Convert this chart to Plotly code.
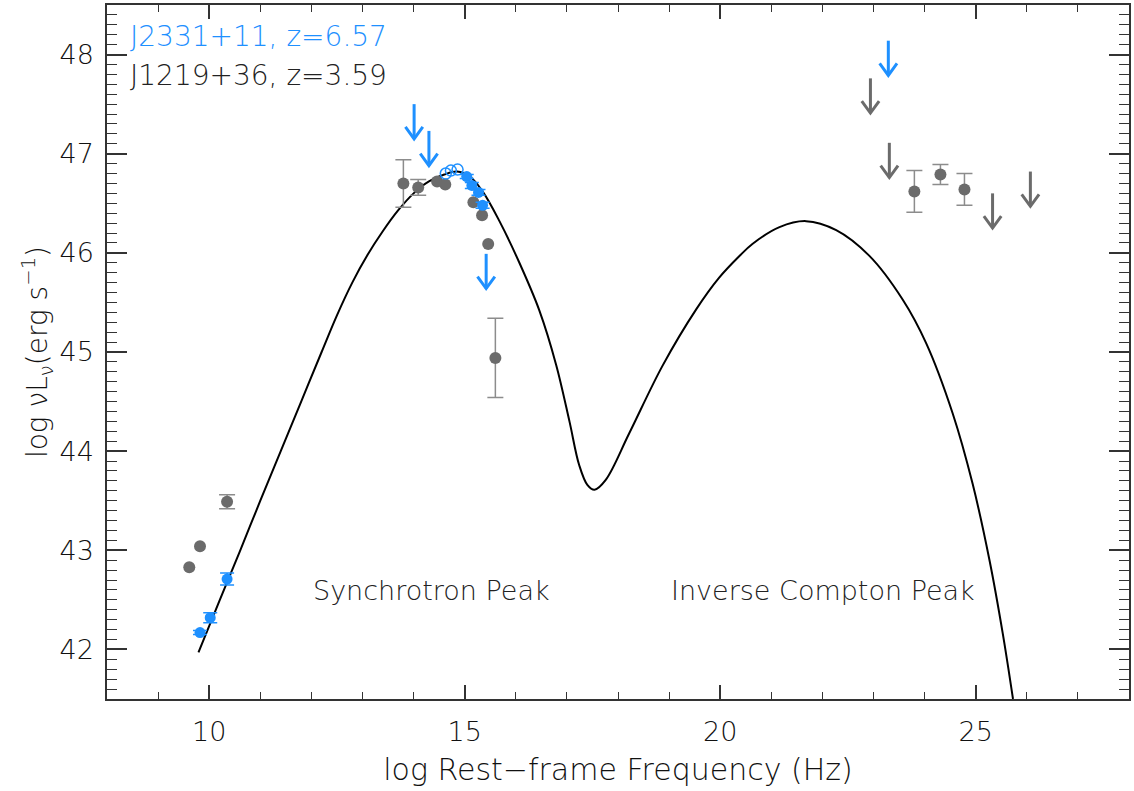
import plotly.graph_objects as go

# ---------------- data ----------------
# model curve (log nu, log nuLnu)
model_x = [9.79, 10.2, 10.6, 11.0, 11.4, 11.8, 12.2, 12.5, 12.8, 13.1, 13.4, 13.7, 14.0, 14.3,
           14.6, 14.85, 15.1, 15.35, 15.68, 16.07, 16.46, 16.79, 17.05, 17.24, 17.4, 17.54, 17.76,
           18.22, 18.87, 19.53, 19.98, 20.38, 20.63, 21.16, 21.68, 22.27, 22.92, 23.57, 24.03,
           24.55, 24.94, 25.27, 25.53, 25.73]
model_y = [41.97, 42.49, 42.99, 43.50, 44.00, 44.50, 45.00, 45.37, 45.70, 45.98, 46.22, 46.43,
           46.60, 46.72, 46.79, 46.82, 46.77, 46.62, 46.32, 45.90, 45.42, 44.87, 44.30, 43.86,
           43.66, 43.61, 43.71, 44.18, 44.86, 45.43, 45.75, 45.97, 46.09, 46.26, 46.32, 46.23,
           45.97, 45.53, 45.09, 44.38, 43.67, 42.90, 42.16, 41.50]

# J1219+36 (grey) detections
gray_x = [9.61, 9.82, 10.35, 13.80, 14.09, 14.46, 14.62, 15.17, 15.34, 15.46, 15.60, 23.80, 24.31, 24.78]
gray_y = [42.83, 43.04, 43.49, 46.70, 46.66, 46.72, 46.69, 46.51, 46.38, 46.09, 44.94, 46.62, 46.79, 46.64]
gray_err = [0, 0, 0.07, 0.24, 0.08, 0, 0, 0, 0, 0, 0.40, 0.21, 0.10, 0.16]
# J1219+36 upper limits
gray_ul_x = [22.94, 23.31, 25.33, 26.07]
gray_ul_y = [47.76, 47.11, 46.60, 46.82]

# J2331+11 (blue) detections
blue_x = [9.82, 10.02, 10.35, 15.04, 15.14, 15.27, 15.35]
blue_y = [42.17, 42.32, 42.71, 46.77, 46.68, 46.61, 46.48]
blue_err = [0.02, 0.05, 0.06, 0.02, 0.03, 0.03, 0.03]
blue_open_x = [14.63, 14.73, 14.86]
blue_open_y = [46.80, 46.83, 46.84]
# J2331+11 upper limits
blue_ul_x = [14.01, 14.30, 15.42, 23.29]
blue_ul_y = [47.50, 47.23, 45.99, 48.14]

x_ticks = [10, 15, 20, 25]
y_ticks = [42, 43, 44, 45, 46, 47, 48]

# ---------------- style ----------------
BLUE = "#1E90FF"
GREY = "#6b6b6b"
ERRC = "#8c8c8c"
AX = "#333333"
FONT = "DejaVu Sans"
FW = 200
ARR_LEN = 0.35   # arrow length in y-units
WING_X = 0.17
WING_Y = 0.12


def arrow_paths(xs, ys):
    px, py = [], []
    for x, y in zip(xs, ys):
        h = y - ARR_LEN
        px += [x, x, None, x - WING_X, x, x + WING_X, None]
        py += [y, h, None, h + WING_Y, h, h + WING_Y, None]
    return px, py


fig = go.Figure()

fig.add_trace(go.Scatter(x=model_x, y=model_y, mode="lines",
                         line=dict(color="black", width=2, shape="spline", smoothing=1.0),
                         hoverinfo="skip", showlegend=False))

# grey error bars
ge_x = [x for x, e in zip(gray_x, gray_err) if e > 0]
ge_y = [y for y, e in zip(gray_y, gray_err) if e > 0]
ge_e = [e for e in gray_err if e > 0]
fig.add_trace(go.Scatter(x=ge_x, y=ge_y, mode="markers", marker=dict(size=1, color="rgba(0,0,0,0)"),
                         error_y=dict(type="data", array=ge_e, color=ERRC, thickness=1.5, width=8),
                         showlegend=False))
fig.add_trace(go.Scatter(x=gray_x, y=gray_y, mode="markers", marker=dict(size=12, color=GREY),
                         showlegend=False))
ax_, ay_ = arrow_paths(gray_ul_x, gray_ul_y)
fig.add_trace(go.Scatter(x=ax_, y=ay_, mode="lines", line=dict(color=GREY, width=3), showlegend=False))

# blue
fig.add_trace(go.Scatter(x=blue_open_x, y=blue_open_y, mode="markers",
                         marker=dict(size=11, color="rgba(0,0,0,0)", line=dict(color=BLUE, width=1.5)),
                         showlegend=False))
fig.add_trace(go.Scatter(x=blue_x, y=blue_y, mode="markers", marker=dict(size=11, color=BLUE),
                         error_y=dict(type="data", array=blue_err, color=BLUE, thickness=1.5, width=7),
                         showlegend=False))
bx_, by_ = arrow_paths(blue_ul_x, blue_ul_y)
fig.add_trace(go.Scatter(x=bx_, y=by_, mode="lines", line=dict(color=BLUE, width=3), showlegend=False))

axis_common = dict(showline=True, linecolor=AX, linewidth=1.5, mirror="ticks", ticks="inside",
                   tickcolor=AX, showgrid=False, zeroline=False,
                   tickfont=dict(family=FONT, size=27, color="#111", weight=FW))

fig.update_xaxes(range=[8, 28], tickvals=x_ticks, ticktext=[str(v) for v in x_ticks], ticklen=14, tickwidth=1.5,
                 minor=dict(ticks="inside", dtick=1, ticklen=7, tickcolor=AX, tickwidth=1.2),
                 ticklabelstandoff=8,
                 title=dict(text="log Rest−frame Frequency (Hz)",
                            font=dict(family=FONT, size=30, color="#111", weight=FW), standoff=13),
                 **axis_common)
fig.update_yaxes(range=[41.5, 48.5], tickvals=y_ticks, ticktext=[str(v) for v in y_ticks], ticklen=20, tickwidth=1.5,
                 minor=dict(ticks="inside", dtick=0.1, ticklen=10, tickcolor=AX, tickwidth=1.2),
                 ticklabelstandoff=6,
                 title=dict(text="log νL<sub>ν</sub>(erg s<sup>−1</sup>)",
                            font=dict(family=FONT, size=28, color="#111", weight=FW), standoff=4),
                 **axis_common)

texts = [
    dict(x=0.021, y=0.954, text="J2331+11, z=6.57", color=BLUE),
    dict(x=0.021, y=0.898, text="J1219+36, z=3.59", color="#222"),
]
for t in texts:
    fig.add_annotation(x=t["x"], y=t["y"], xref="paper", yref="paper", text=t["text"], showarrow=False,
                       xanchor="left", yanchor="middle", font=dict(family=FONT, size=28, color=t["color"], weight=FW))

fig.add_annotation(x=12.0, y=42.59, xref="x", yref="y", text="Synchrotron Peak", showarrow=False,
                   xanchor="left", yanchor="middle", font=dict(family=FONT, size=27, color="#222", weight=FW))
fig.add_annotation(x=19.0, y=42.59, xref="x", yref="y", text="Inverse Compton Peak", showarrow=False,
                   xanchor="left", yanchor="middle", font=dict(family=FONT, size=27, color="#222", weight=FW))

fig.update_layout(width=1134, height=791, margin=dict(l=107, r=3, t=4, b=92),
                  paper_bgcolor="white", plot_bgcolor="white", showlegend=False)

fig.write_html("out.html")
